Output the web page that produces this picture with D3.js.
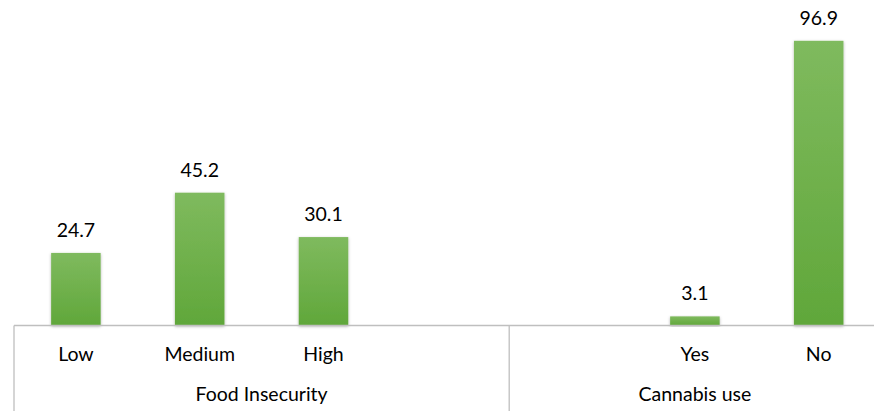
<!DOCTYPE html>
<html><head><meta charset="utf-8">
<script src="https://cdn.jsdelivr.net/npm/d3@7"></script>
<style>html,body{margin:0;padding:0;background:#fff;}svg{display:block;}</style>
</head><body>
<svg id="chart" width="874" height="411"></svg>
<script>
const categories = ["Low", "Medium", "High", "", "", "Yes", "No"];
const values = [24.7, 45.2, 30.1, null, null, 3.1, 96.9];
const groupNames = ["Food Insecurity", "Cannabis use"];
const groupSizes = [4, 3];

const W = 874, H = 411;
const left = 14, right = 880.6, base = 325.5;
const svg = d3.select("#chart");
const font = "Lato, 'Open Sans', sans-serif";
const fs = 19.5;

const idx = categories.map((d, i) => i);
const x = d3.scaleBand().domain(idx).range([left, right]).padding(0.6).paddingOuter(0.3);
const y = d3.scaleLinear().domain([0, 100]).range([base, 31.7]);

const defs = svg.append("defs");
const grad = defs.append("linearGradient").attr("id", "g").attr("x1", 0).attr("y1", 0).attr("x2", 0).attr("y2", 1);
grad.append("stop").attr("offset", "0%").attr("stop-color", "#7fba5e");
grad.append("stop").attr("offset", "100%").attr("stop-color", "#60a73a");
const f = defs.append("filter").attr("id", "sh").attr("x", "-20%").attr("y", "-5%").attr("width", "140%").attr("height", "115%");
f.append("feDropShadow").attr("dx", 0).attr("dy", 1).attr("stdDeviation", 1.5).attr("flood-color", "#000").attr("flood-opacity", 0.3);

const data = idx.filter(i => values[i] != null);

svg.append("g").selectAll("rect").data(data).join("rect")
  .attr("x", i => x(i)).attr("width", x.bandwidth())
  .attr("y", i => y(values[i])).attr("height", i => y(0) - y(values[i]))
  .attr("fill", "url(#g)").attr("filter", "url(#sh)");

svg.append("g").selectAll("text").data(data).join("text")
  .attr("x", i => x(i) + x.bandwidth() / 2).attr("y", i => y(values[i]) - 16)
  .attr("text-anchor", "middle").attr("font-family", font).attr("font-size", fs).attr("fill", "#000")
  .text(i => values[i].toFixed(1));

// axis line
const step = x.step();
svg.append("line").attr("x1", left).attr("x2", W).attr("y1", base).attr("y2", base)
  .attr("stroke", "#bfbfbf").attr("stroke-width", 1.3);

// category labels
svg.append("g").selectAll("text").data(idx).join("text")
  .attr("x", i => x(i) + x.bandwidth() / 2).attr("y", 361)
  .attr("text-anchor", "middle").attr("font-family", font).attr("font-size", fs).attr("fill", "#000")
  .text(i => categories[i]);

// group separators and labels
const edge = i => x(i) - (step - x.bandwidth()) / 2;
let s0 = 0;
const sepXs = [edge(0)];
groupSizes.forEach((s, gi) => {
  const a = edge(s0), b = edge(s0) + s * step;
  svg.append("text").attr("x", (a + b) / 2).attr("y", 401)
    .attr("text-anchor", "middle").attr("font-family", font).attr("font-size", fs).attr("fill", "#000")
    .text(groupNames[gi]);
  sepXs.push(b);
  s0 += s;
});
svg.append("g").selectAll("line").data(sepXs).join("line")
  .attr("x1", d => d).attr("x2", d => d).attr("y1", base).attr("y2", H)
  .attr("stroke", "#bfbfbf").attr("stroke-width", 1.3);
</script>
</body></html>
